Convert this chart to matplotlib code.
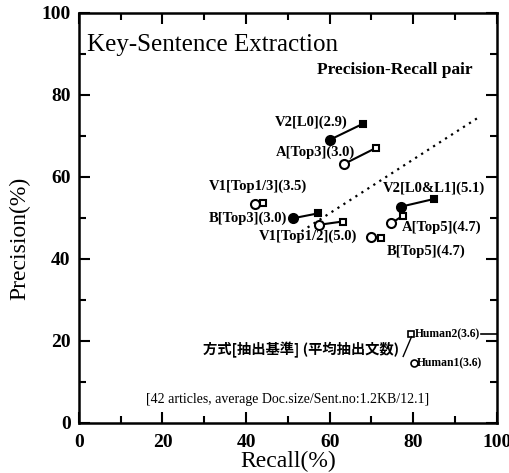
import numpy as np
import matplotlib
matplotlib.use("Agg")
import matplotlib.pyplot as plt
from matplotlib.ticker import MultipleLocator

plt.rcParams["font.family"] = ["Liberation Serif", "DejaVu Serif"]

# circle = first point of each pair, square = second point
pair_labels = ["V2[L0](2.9)", "A[Top3](3.0)", "V1[Top1/3](3.5)", "B[Top3](3.0)",
               "V1[Top1/2](5.0)", "V2[L0&L1](5.1)", "A[Top5](4.7)", "B[Top5](4.7)"]
circle_recall = [60.0, 63.4, 42.1, 51.3, 57.5, 77.0, 74.8, 69.9]
circle_precision = [69.0, 63.1, 53.3, 49.9, 48.3, 52.7, 48.7, 45.4]
square_recall = [67.9, 71.2, 44.1, 57.3, 63.1, 85.0, 77.5, 72.4]
square_precision = [72.9, 67.1, 53.7, 51.1, 49.1, 54.6, 50.5, 45.0]
filled = [True, False, False, True, False, True, False, False]
connected = [True, True, False, True, True, True, True, False]

human_labels = ["Human2(3.6)", "Human1(3.6)"]
human_recall = [79.4, 80.1]
human_precision = [21.7, 14.6]

trend_recall = [53.3, 95.5]
trend_precision = [46.7, 74.4]

fig = plt.figure(figsize=(5.09, 4.73), dpi=100)
ax = fig.add_axes([0.155, 0.106, 0.821, 0.867])

ax.plot(trend_recall, trend_precision, color="black", linestyle=(0, (1, 2.2)), lw=1.6)

for i in range(len(pair_labels)):
    fc = "black" if filled[i] else "white"
    if connected[i]:
        ax.plot([circle_recall[i], square_recall[i]], [circle_precision[i], square_precision[i]],
                color="black", lw=1.5, zorder=2)
    ax.plot(circle_recall[i], circle_precision[i], marker="o", ms=6.5, mfc=fc, mec="black",
            mew=1.5, ls="none", zorder=3)
    ax.plot(square_recall[i], square_precision[i], marker="s", ms=5, mfc=fc, mec="black",
            mew=1.5, ls="none", zorder=3)

ax.plot(human_recall[0], human_precision[0], marker="s", ms=5, mfc="white", mec="black", mew=1.2)
ax.plot(human_recall[1], human_precision[1], marker="o", ms=5, mfc="white", mec="black", mew=1.2)

# labels
lab = dict(fontsize=10.5, fontweight="bold", va="center")
ax.text(64.4, 73.2, pair_labels[0], ha="right", **lab)
ax.text(66.0, 66.1, pair_labels[1], ha="right", **lab)
ax.text(31.1, 57.6, pair_labels[2], ha="left", **lab)
ax.text(31.1, 50.0, pair_labels[3], ha="left", **lab)
ax.text(43.1, 45.4, pair_labels[4], ha="left", **lab)
ax.text(72.7, 57.1, pair_labels[5], ha="left", **lab)
ax.text(77.2, 47.8, pair_labels[6], ha="left", **lab)
ax.text(73.7, 41.8, pair_labels[7], ha="left", **lab)

ax.text(80.4, 21.7, human_labels[0], ha="left", va="center", fontsize=8.4, fontweight="bold")
ax.text(80.9, 14.6, human_labels[1], ha="left", va="center", fontsize=8.4, fontweight="bold")
ax.plot([96.2, 100], [21.7, 21.7], color="black", lw=1.2)
ax.plot([77.6, 79.6], [16.2, 21.0], color="black", lw=1.0)
ax.text(29.7, 17.8, "方式[抽出基準] (平均抽出文数)", ha="left", va="center",
        fontsize=10.3, fontweight="bold", family=["Noto Sans CJK JP", "DejaVu Sans"])

ax.text(1.9, 92.2, "Key-Sentence Extraction", ha="left", va="center", fontsize=18)
ax.text(94.3, 86.1, "Precision-Recall pair", ha="right", va="center", fontsize=12.5,
        fontweight="bold")
ax.text(16.0, 5.6, "[42 articles, average Doc.size/Sent.no:1.2KB/12.1]", ha="left",
        va="center", fontsize=10)

ax.set_xlim(0, 100)
ax.set_ylim(0, 100)
ax.xaxis.set_major_locator(MultipleLocator(20))
ax.yaxis.set_major_locator(MultipleLocator(20))
ax.xaxis.set_minor_locator(MultipleLocator(10))
ax.yaxis.set_minor_locator(MultipleLocator(10))
ax.tick_params(which="both", direction="in", top=True, right=True, width=1.5)
ax.tick_params(which="major", length=8)
ax.tick_params(which="minor", length=5)
ax.tick_params(axis="x", pad=8)
ax.tick_params(axis="y", pad=6)
for t in ax.get_xticklabels() + ax.get_yticklabels():
    t.set_fontweight("bold")
    t.set_fontsize(14)
for s in ax.spines.values():
    s.set_linewidth(1.8)

ax.set_xlabel("Recall(%)", fontsize=17, labelpad=0)
ax.set_ylabel("Precision(%)", fontsize=17, labelpad=2)
ax.yaxis.set_label_coords(-0.117, 0.45)

fig.savefig("out.png", dpi=100)
